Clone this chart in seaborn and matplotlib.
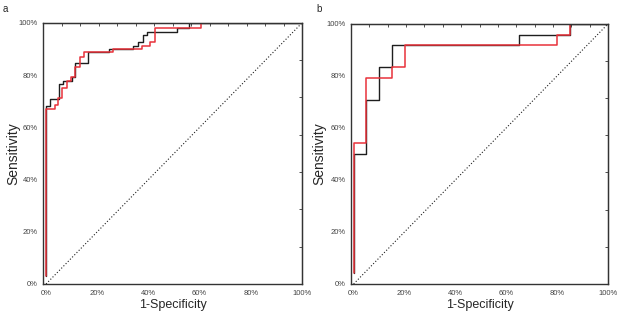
import numpy as np
import pandas as pd
import seaborn as sns
import matplotlib.pyplot as plt

# panel a: step vertices (1-specificity %, sensitivity %)
a_black_fpr = [0, 0, 1.6, 5.0, 6.5, 10.0, 11.4, 16.2, 24.5, 34.1, 35.8, 37.8, 39.3, 51.0, 55.8, 100]
a_black_tpr = [3, 68.3, 71.0, 76.6, 77.9, 79.2, 84.6, 88.8, 90.0, 91.2, 92.8, 95.4, 96.7, 98.1, 100, 100]
a_red_fpr = [0, 0, 3.3, 4.8, 6.4, 8.1, 9.8, 11.4, 13.3, 15.0, 26.3, 37.6, 40.5, 42.4, 60.6, 100]
a_red_tpr = [3, 67.2, 68.5, 71.3, 75.1, 77.9, 79.2, 83.0, 86.9, 88.8, 90.0, 91.2, 92.8, 98.1, 100, 100]

# panel b
b_black_fpr = [0, 0, 5, 10, 15, 65, 85, 100]
b_black_tpr = [4.17, 50.0, 70.8, 83.3, 91.7, 95.8, 100, 100]
b_red_fpr = [0, 0, 5, 15, 20, 80, 85, 100]
b_red_tpr = [4.17, 54.2, 79.2, 83.3, 91.7, 95.8, 100, 100]

tick_vals = [0, 20, 40, 60, 80, 100]
tick_labels = ["0%", "20%", "40%", "60%", "80%", "100%"]

sns.set_style("white")
FONT = ["Liberation Sans Narrow", "Liberation Sans", "DejaVu Sans"]
plt.rcParams["font.family"] = FONT

RED = "#e8323a"
BLACK = "#1e1e1e"
SPINE = "#333333"


def draw_roc(ax, black_fpr, black_tpr, red_fpr, red_tpr):
    # chance line
    diag = pd.DataFrame({"x": [0, 100], "y": [0, 100]})
    sns.lineplot(data=diag, x="x", y="y", ax=ax, color=BLACK,
                 linestyle=(0, (1, 1.8)), linewidth=0.8)

    black = pd.DataFrame({"fpr": black_fpr, "tpr": black_tpr})
    red = pd.DataFrame({"fpr": red_fpr, "tpr": red_tpr})
    sns.lineplot(data=black, x="fpr", y="tpr", ax=ax, color=BLACK, linewidth=1.0,
                 drawstyle="steps-post", estimator=None, sort=False)
    sns.lineplot(data=red, x="fpr", y="tpr", ax=ax, color=RED, linewidth=1.1,
                 drawstyle="steps-post", estimator=None, sort=False)

    ax.set_xlim(-1, 100)
    ax.set_ylim(0, 100)
    ax.set_xticks(tick_vals)
    ax.set_xticklabels(tick_labels)
    ax.set_yticks(tick_vals)
    ax.set_yticklabels(tick_labels)
    ax.set_xticks(np.arange(10, 100, 20), minor=True)
    ax.set_yticks(np.arange(10, 100, 20), minor=True)
    ax.tick_params(which="both", direction="out", length=2.5, width=0.6,
                   color=SPINE, labelsize=5.5, labelcolor="#444444", pad=1.5)

    # inward ticks on top and right
    top = ax.secondary_xaxis("top")
    top.set_xticks(np.linspace(-1, 100, 15))
    top.tick_params(direction="in", length=2.5, width=0.6, color=SPINE, labeltop=False)
    right = ax.secondary_yaxis("right")
    right.set_yticks(np.linspace(0, 100, 8))
    right.tick_params(direction="in", length=2.5, width=0.6, color=SPINE, labelright=False)

    for sp in ax.spines.values():
        sp.set_color(SPINE)
        sp.set_linewidth(1.0)

    ax.set_xlabel("1-Specificity", fontsize=9, labelpad=2)
    ax.set_ylabel("Sensitivity", fontsize=10)


fig = plt.figure(figsize=(6.17, 3.18), dpi=100)
ax_a = fig.add_axes([0.0705, 0.107, 0.419, 0.821])
ax_b = fig.add_axes([0.569, 0.107, 0.4165, 0.818])

draw_roc(ax_a, a_black_fpr, a_black_tpr, a_red_fpr, a_red_tpr)
draw_roc(ax_b, b_black_fpr, b_black_tpr, b_red_fpr, b_red_tpr)
ax_a.yaxis.set_label_coords(-0.09, 0.5)
ax_b.yaxis.set_label_coords(-0.095, 0.5)

fig.text(3 / 617, 1 - 9 / 318, "a", fontsize=7, va="center")
fig.text(316 / 617, 1 - 9 / 318, "b", fontsize=7, va="center")

fig.savefig("out.png", dpi=100)
